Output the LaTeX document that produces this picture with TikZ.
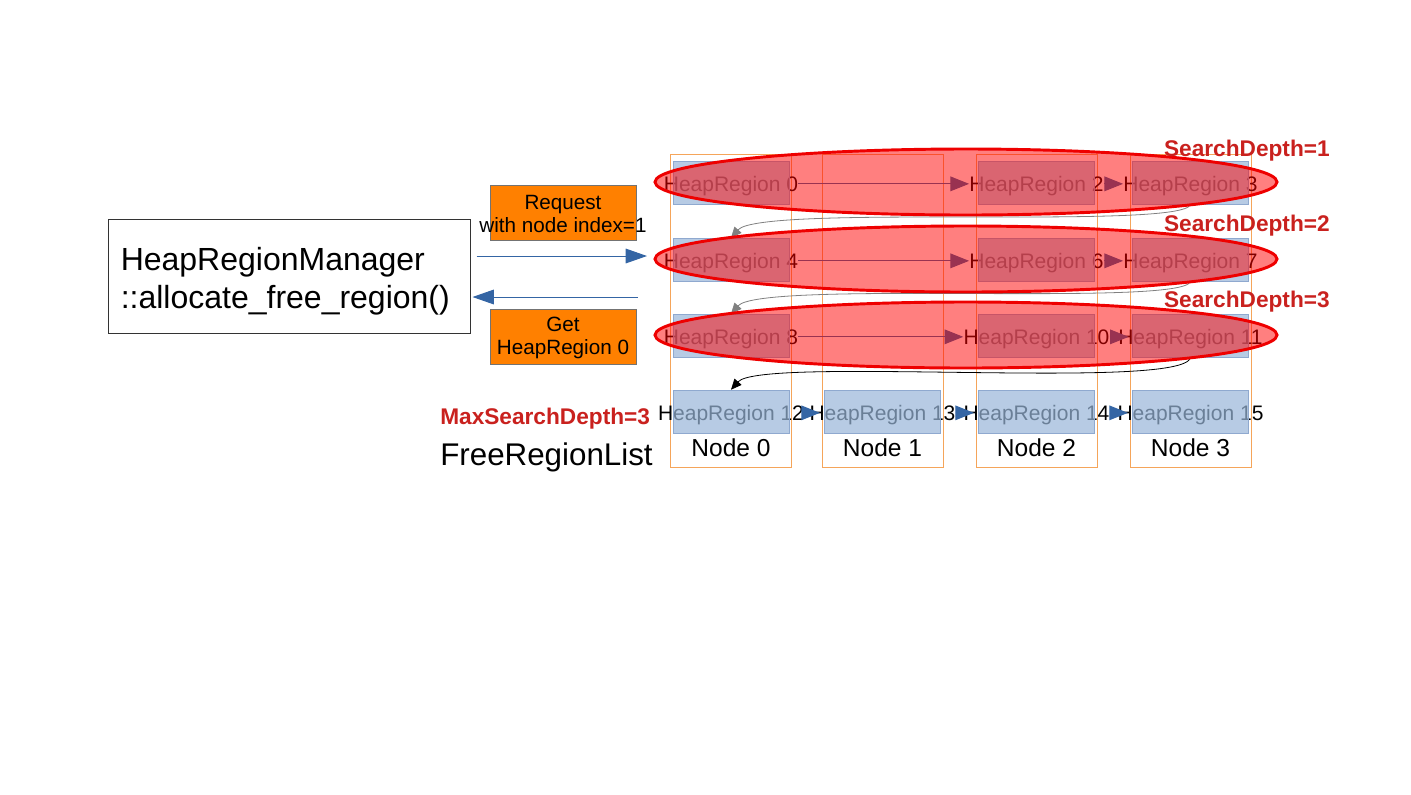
\documentclass[tikz,border=0pt]{standalone}
\usepackage{fontspec}
\setmainfont{Liberation Sans}
\usetikzlibrary{arrows.meta,calc,positioning}
\definecolor{flowblue}{HTML}{3465A4}
\definecolor{boxblue}{HTML}{98B5D8}
\definecolor{boxedge}{HTML}{8FA9CF}
\definecolor{numaedge}{HTML}{F5A55A}
\definecolor{reqorange}{HTML}{FF8000}
\definecolor{depthred}{HTML}{C9211E}
\definecolor{ringred}{HTML}{EE0000}

\begin{document}
\begin{tikzpicture}[x=0.75pt, y=-0.75pt,
    regiontext/.style={inner sep=0pt, text height=11.3pt, text depth=0pt, yshift=-1pt, font=\fontsize{15.75}{18}\selectfont},
    regionbox/.style={draw=boxedge, fill=boxblue, fill opacity=0.7, minimum width=87pt, minimum height=32.25pt, inner sep=0pt},
    numa/.style={draw=numaedge, line width=0.75pt, minimum width=90.75pt, minimum height=234.75pt, inner sep=0pt},
    numalabel/.style={font=\fontsize{18.4}{22}\selectfont},
    link/.style={draw=flowblue, line width=0.75pt, -{Triangle[length=14pt,width=11pt]}},
    shortlink/.style={link, shorten >=-8pt},
    flow/.style={draw=flowblue, line width=0.75pt, -{Triangle[length=16pt,width=11pt]}},
    hop/.style={line width=0.6pt, -{Triangle[length=8pt,width=7pt]}},
    msgbox/.style={draw=black!55, fill=reqorange, minimum width=109.5pt, minimum height=41.25pt, inner sep=0pt},
    msgtext/.style={align=center, inner sep=0pt, font=\fontsize{15.5}{17.5}\selectfont},
    depth/.style={font=\fontsize{17}{20}\selectfont\bfseries, text=depthred, inner sep=0pt},
    ring/.style={draw=ringred, line width=2.2pt, fill=red, fill opacity=0.5}
  ]
  \useasboundingbox (0,0) rectangle (1411,794);

  % manager box and the two messages
  \node[draw=black!80, line width=0.75pt, minimum width=271.5pt, minimum height=85.5pt] (mgr) at (289,276) {};
  \node[anchor=west, align=left, inner sep=0pt, font=\fontsize{24}{28.5}\selectfont] (mgrtext) at ($(mgr.west)+(13,5)$)
    {HeapRegionManager\\::allocate\_free\_region()};
  \node[msgbox] (reqbox) at (563,213) {};
  \node[msgtext] (req) at ($(reqbox)+(0,1)$) {Request\\with node index=1};
  \node[msgbox] (getbox) at (563,337) {};
  \node[msgtext] (get) at ($(getbox)+(0,1)$) {Get\\HeapRegion 0};
  \coordinate (into) at (647,256);
  \coordinate (back) at (638,297);
  \draw[flow, shorten <=4.5pt] (mgr.east |- into) -- (into);
  \draw[flow, shorten >=1.5pt] (back) -- (mgr.east |- back);

  % NUMA nodes
  \node[numa] (col0) at (731,310.5) {};
  \node[numa] (col1) at (882.5,310.5) {};
  \node[numa] (col2) at (1036.5,310.5) {};
  \node[numa] (col3) at (1190.5,310.5) {};
  \node[numalabel] (lab0) at (731,448) {Node 0};
  \node[numalabel] (lab1) at (882.5,448) {Node 1};
  \node[numalabel] (lab2) at (1036.5,448) {Node 2};
  \node[numalabel] (lab3) at (1190.5,448) {Node 3};

  % free regions, text under the boxes
  \node[regiontext] (hr0) at (731,182.5) {HeapRegion 0};
  \node[regionbox] (b0) at (731,182.5) {};
  \node[regiontext] (hr2) at (1036.5,182.5) {HeapRegion 2};
  \node[regionbox] (b2) at (1036.5,182.5) {};
  \node[regiontext] (hr3) at (1190.5,182.5) {HeapRegion 3};
  \node[regionbox] (b3) at (1190.5,182.5) {};

  \node[regiontext] (hr4) at (731,259.5) {HeapRegion 4};
  \node[regionbox] (b4) at (731,259.5) {};
  \node[regiontext] (hr6) at (1036.5,259.5) {HeapRegion 6};
  \node[regionbox] (b6) at (1036.5,259.5) {};
  \node[regiontext] (hr7) at (1190.5,259.5) {HeapRegion 7};
  \node[regionbox] (b7) at (1190.5,259.5) {};

  \node[regiontext] (hr8) at (731,335.5) {HeapRegion 8};
  \node[regionbox] (b8) at (731,335.5) {};
  \node[regiontext] (hr10) at (1036.5,335.5) {HeapRegion 10};
  \node[regionbox] (b10) at (1036.5,335.5) {};
  \node[regiontext] (hr11) at (1190.5,335.5) {HeapRegion 11};
  \node[regionbox] (b11) at (1190.5,335.5) {};

  \node[regiontext] (hr12) at (731,411.5) {HeapRegion 12};
  \node[regionbox] (b12) at (731,411.5) {};
  \node[regiontext] (hr13) at (882.5,411.5) {HeapRegion 13};
  \node[regionbox] (b13) at (882.5,411.5) {};
  \node[regiontext] (hr14) at (1036.5,411.5) {HeapRegion 14};
  \node[regionbox] (b14) at (1036.5,411.5) {};
  \node[regiontext] (hr15) at (1190.5,411.5) {HeapRegion 15};
  \node[regionbox] (b15) at (1190.5,411.5) {};

  % links along each row
  \draw[link] (hr0) -- (hr2);
  \draw[link] (hr2) -- (hr3);
  \draw[link] (hr4) -- (hr6);
  \draw[link] (hr6) -- (hr7);
  \draw[link] (hr8) -- (hr10);
  \draw[shortlink] (hr10) -- (hr11);
  \draw[shortlink] (hr12) -- (hr13);
  \draw[shortlink] (hr13) -- (hr14);
  \draw[shortlink] (hr14) -- (hr15);

  % wrap to the next row
  \draw[hop, gray] (b3.south) .. controls +(-5,26) and +(30,-34) .. (b4.north);
  \draw[hop, gray] (b7.south) .. controls +(-5,26) and +(30,-34) .. (b8.north);
  \draw[hop, black] (b11.south) .. controls +(-5,34) and +(30,-34) .. (b12.north);

  % search depths
  \draw[ring] (966,182) ellipse [x radius=233.25pt, y radius=24.75pt];
  \draw[ring] (966,259) ellipse [x radius=233.25pt, y radius=24.75pt];
  \draw[ring] (966,335) ellipse [x radius=233.25pt, y radius=24.75pt];
  \node[depth, anchor=east] (sd1) at (1330,150.5) {SearchDepth=1};
  \node[depth, anchor=east] (sd2) at (1330,225.5) {SearchDepth=2};
  \node[depth, anchor=east] (sd3) at (1330,301.5) {SearchDepth=3};
  \node[depth, anchor=west] (maxsd) at (440,418.5) {MaxSearchDepth=3};
  \node[anchor=west, inner sep=0pt, font=\fontsize{23.5}{27}\selectfont] (frl) at (440,457) {FreeRegionList};
\end{tikzpicture}
\end{document}
